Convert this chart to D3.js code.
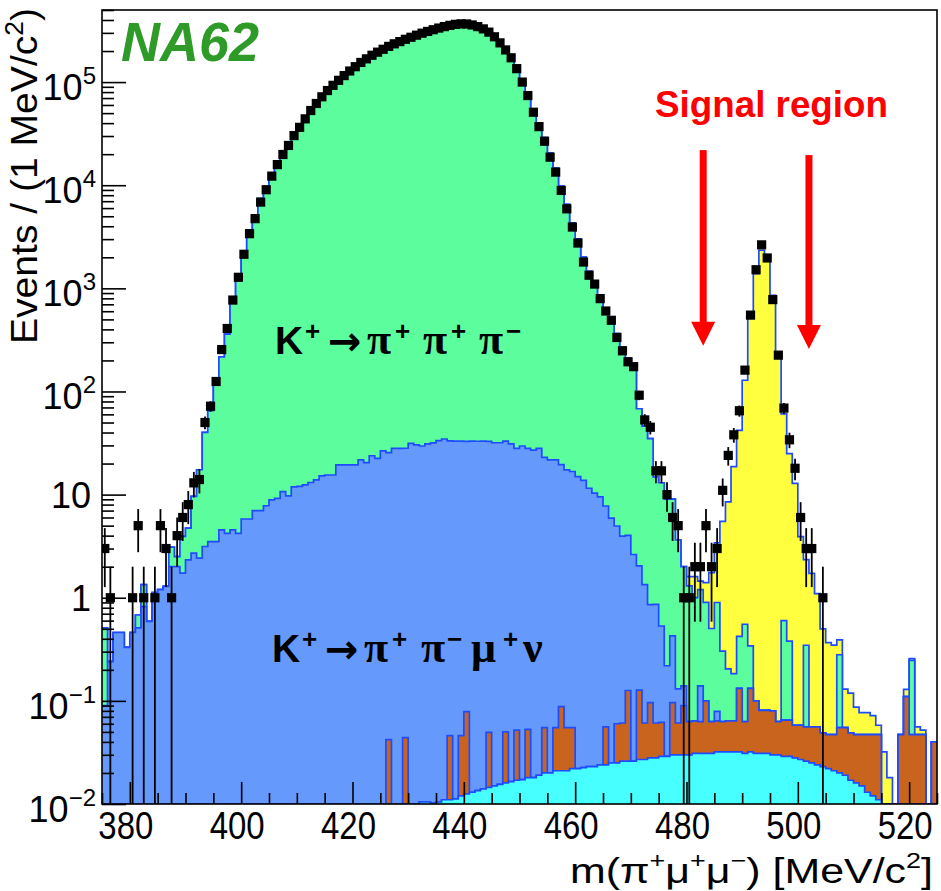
<!DOCTYPE html>
<html><head><meta charset="utf-8">
<script src="https://cdn.jsdelivr.net/npm/d3@7"></script>
<style>body{margin:0;background:#fff}svg{display:block;background:#fff}</style>
</head><body>
<svg id="c" width="941" height="891"></svg>
<script>
// ---- binning: 1 MeV/c^2 bins from 375 to 525 ----
const massLow = 375, massHigh = 525, nBins = 150;

// ---- MC components (events per bin), stacked bottom -> top ----
const cyanBkg = [
 0,0,0,0,0,0,0,0,0,0, 0,0,0,0,0,0,0,0,0,0, 0,0,0,0,0,0,0,0,0,0, 0,0,0,0,0,0,0,0,0,0, 0,0,0,0,0,0,0,0,0,0,
 0,0,0,0,0,0,0,0.0105,0.0105,0.0102,
 0.0105,0.011,0.011,0.0112,0.012,0.0125,0.013,0.0135,0.014,0.0145,
 0.015,0.0155,0.016,0.0165,0.017,0.0172,0.018,0.018,0.019,0.020,
 0.020,0.021,0.021,0.021,0.022,0.022,0.0225,0.023,0.023,0.024,
 0.024,0.025,0.025,0.026,0.026,0.026,0.027,0.027,0.028,0.028,
 0.029,0.029,0.030,0.030,0.030,0.030,0.031,0.031,0.031,0.031,
 0.032,0.032,0.032,0.032,0.032,0.031,0.032,0.031,0.031,0.031,
 0.030,0.030,0.029,0.029,0.028,0.027,0.026,0.025,0.024,0.023,
 0.022,0.021,0.020,0.019,0.017,0.016,0.015,0.013,0.012,0.011,
 0,0,0,0,0,0,0,0,0,0];
const orangeBkg = [
 0,0,0,0,0,0,0,0,0,0, 0,0,0,0,0,0,0,0,0,0, 0,0,0,0,0,0,0,0,0,0, 0,0,0,0,0,0,0,0,0,0, 0,0,0,0,0,0,0,0,0,0,
 0,0.042,0,0,0.044,0,0,0,0,0,
 0,0,0.035,0,0.034,0.066,0,0,0,0.035,
 0,0,0.034,0,0.035,0,0.035,0,0,0.035,
 0,0.034,0.067,0.034,0.033,0,0,0,0,0,
 0.032,0,0.035,0.035,0.10,0,0.10,0.034,0.068,0.033,
 0.033,0,0.066,0.031,0.06,0.033,0.033,0.032,0.069,0.032,
 0.032,0.031,0.032,0.032,0.10,0.032,0.10,0.069,0.05,0.05,
 0.05,0.033,0.036,0.036,0.030,0.031,0.030,0.031,0.032,0.026,
 0.025,0.026,0.035,0.036,0.032,0.031,0.032,0.034,0.035,0.036,
 0,0,0,0.047,0.11,0.047,0.047,0.047,0,0.04];
const pipimunu = [
 0.09,0.24,0.46,0.46,0.33,0.46,0.51,0.82,0.59,1.12,
 1.2,1.29,2.0,2.0,1.73,2.33,2.71,2.42,3.14,3.5,
 3.5,4.55,4.2,4.55,4.2,5.8,5.8,7.0,7.0,7.8,
 8.9,9.2,10.7,9.7,11.9,12.0,12.4,13.1,13.9,15.2,
 15.5,15.5,19.4,19.4,19.4,19.4,21.7,20.4,23.8,22.5,
 26.6,25.5,28.1,28.1,28.1,31.4,30.3,29.6,31.0,31.8,
 33.3,34.6,33.2,33.0,33.0,32.8,33.0,32.9,33.0,32.8,
 31.8,31.8,33.0,31.0,28.0,29.6,28.0,27.0,28.0,22.9,
 21.7,21.7,19.4,17.3,16.7,14.9,13.7,11.5,10.3,9.5,
 7.7,5.9,4.9,3.9,3.9,2.6,1.91,1.28,0.76,0.80,
 0.47,0.19,0.33,0.07,0.05,0,0,0.077,0,0,
 0.015,0,0,0,0,0,0,0,0,0,
 0,0,0,0,0,0,0,0,0,0, 0,0,0,0,0,0,0,0,0,0, 0,0,0,0,0,0,0,0,0,0];
const k3pi = [
 0.42,0,0,0,0,0,0.17,0.52,0,0,
 0,0,1.1,0.5,2.2,2.4,6.9,15,37,61.5,
 121,212,356,715,1246,2300,3650,5100,7400,9700,
 13100,17000,21300,26000,32300,38800,46800,56000,65500,75500,
 86500,96500,107000,118500,131000,144000,157500,170500,184000,197000,
 210000,222000,235000,247000,260000,272000,285000,298000,310000,322000,
 334000,345000,355000,363000,367000,366000,358000,345000,328000,305000,
 276000,243000,210000,178000,141000,106000,79000,55000,40000,29000,
 20500,14600,9800,6500,4300,3000,2000,1450,1150,850,
 640,500,360,265,205,160,66,44.7,34,14,
 12.5,8.8,8.6,3.5,1.86,1.24,0.94,1.06,0.8,0.44,
 0.82,0.24,0.14,0.12,0.29,0.49,0.21,0,0,0,
 0,0,0.535,0.315,0,0,0.29,0,0,0,
 0,0,0.225,0,0,0,0,0,0,0,
 0,0,0,0,0,0.2,0,0,0,0];
const signal = [
 0,0,0,0,0,0,0,0,0,0, 0,0,0,0,0,0,0,0,0,0, 0,0,0,0,0,0,0,0,0,0, 0,0,0,0,0,0,0,0,0,0, 0,0,0,0,0,0,0,0,0,0,
 0,0,0,0,0,0,0,0,0,0, 0,0,0,0,0,0,0,0,0,0, 0,0,0,0,0,0,0,0,0,0, 0,0,0,0,0,0,0,0,0,0, 0,0,0,0,0,0,0,0,0,0,
 0,0,0,0,0,0.3,0.6,0.25,0.5,1.25,
 2.5,5.2,8.3,18.5,41.6,128,528,1390,2340,1860,
 857,217,60,24.6,12.8,3.85,2.0,1.67,1.04,0.45,
 0.32,0.30,0.11,0.075,0.07,0.04,0.03,0.03,0.025,0.011,
 0.032,0.018,0,0,0.019,0.01,0.009,0.005,0,0];

// ---- data (events per bin) ----
const dataCounts = [
 3,1,0,0,0,1,5,1,0,1,
 5,3,1,4,6,8,13,14,50,72,
 125,255,408,770,1280,2140,3390,4740,6860,9040,
 12250,15850,19860,24300,30300,36400,44000,53000,62000,72000,
 82800,93000,104000,115600,128000,141000,155000,168000,182000,195000,
 208000,222000,235000,247000,260000,272000,285000,298000,310000,322000,
 334000,345000,355000,363000,367000,366000,358000,345000,328000,305000,
 275000,240000,205000,172000,135000,100000,74000,51000,37000,26700,
 18700,13400,8900,5900,3930,2750,1800,1340,1100,795,
 603,490,334,248,194,174,92,53,45,17,
 17,10,6,5,1,1,2,2,5,2,
 3,11,24,38,65,161,550,1515,2640,1970,
 778,225,69,34,18,6,3,3,0,1,
 0,0,0,0,0,0,0,0,0,0, 0,0,0,0,0,0,0,0,0,0];

// ---- axis ticks / annotations ----
const xTickMajor = [380,400,420,440,460,480,500,520];
const xTickMinor = d3.range(375, 526, 5).filter(v => v % 20 !== 0);
const yDecades = [-2,-1,0,1,2,3,4,5];
const signalWindow = [483, 502];
const arrowTop = [2.19e4, 1.96e4];
const arrowTip = [277, 258];

const W = {l:102, r:937, t:10, b:804};
const svg = d3.select("#c");
const x = d3.scaleLinear().domain([massLow, massHigh]).range([W.l, W.r]);
const y = d3.scaleLog().domain([0.01, 5e5]).range([W.b, W.t]);
const yc = v => v > 0.01 ? y(v) : W.b;

svg.append("clipPath").attr("id","frameClip").append("rect")
  .attr("x",W.l).attr("y",W.t).attr("width",W.r-W.l).attr("height",W.b-W.t);
const plot = svg.append("g").attr("clip-path","url(#frameClip)");

// ---- stacked histograms ----
const keys = ["cyan","orange","blue","green","yellow"];
const fills = {cyan:"#48ffff", orange:"#c8641e", blue:"#6699fc", green:"#5cfd9d", yellow:"#ffff40"};
const rows = d3.range(nBins).map(i => ({cyan:cyanBkg[i], orange:orangeBkg[i], blue:pipimunu[i], green:k3pi[i], yellow:signal[i]}));
const stacked = d3.stack().keys(keys)(rows);
const stepPts = layer => {
  const p = layer.map((d,i) => [massLow + i, d[1]]);
  p.push([massHigh, layer[nBins-1][1]]);
  return p;
};
const area = d3.area().curve(d3.curveStepAfter).x(d => x(d[0])).y0(W.b).y1(d => yc(d[1]));
const line = d3.line().curve(d3.curveStepAfter).x(d => x(d[0])).y(d => yc(d[1]));
for (let k = keys.length - 1; k >= 0; k--) {
  const p = stepPts(stacked[k]);
  plot.append("path").attr("d", area(p)).attr("fill", fills[keys[k]]);
  plot.append("path").attr("d", line(p)).attr("fill","none")
    .attr("stroke","#1f4bff").attr("stroke-width",1.7);
}

// ---- data points ----
const pts = dataCounts.map((n,i) => ({n, i})).filter(d => d.n > 0);
const dg = plot.append("g").attr("stroke","#000").attr("stroke-width",1.8);
dg.selectAll("line.v").data(pts).join("line").attr("class","v")
  .attr("x1", d => x(massLow + d.i + 0.5)).attr("x2", d => x(massLow + d.i + 0.5))
  .attr("y1", d => yc(d.n - Math.sqrt(d.n))).attr("y2", d => yc(d.n + Math.sqrt(d.n)));
dg.selectAll("line.h").data(pts).join("line").attr("class","h")
  .attr("x1", d => x(massLow + d.i)).attr("x2", d => x(massLow + d.i + 1))
  .attr("y1", d => y(d.n)).attr("y2", d => y(d.n));
plot.append("g").selectAll("rect").data(pts).join("rect")
  .attr("x", d => x(massLow + d.i + 0.5) - 4.6).attr("y", d => y(d.n) - 4.6)
  .attr("width",9.2).attr("height",9.2).attr("fill","#000");

// ---- frame & axes ----
svg.append("rect").attr("x",W.l).attr("y",W.t).attr("width",W.r-W.l).attr("height",W.b-W.t)
  .attr("fill","none").attr("stroke","#000").attr("stroke-width",1.6);
const styleAxis = g => { g.select(".domain").remove(); g.selectAll("line").attr("stroke","#000").attr("stroke-width",1.6); g.selectAll("text").remove(); };
svg.append("g").attr("transform",`translate(0,${W.b})`)
  .call(d3.axisBottom(x).tickValues(xTickMajor).tickSize(-22).tickSizeOuter(0)).call(styleAxis);
svg.append("g").attr("transform",`translate(0,${W.b})`)
  .call(d3.axisBottom(x).tickValues(xTickMinor).tickSize(-11).tickSizeOuter(0)).call(styleAxis);
const yMajor = yDecades.map(e => Math.pow(10, e));
const yMinor = [];
yDecades.forEach(e => d3.range(2,10).forEach(k => { const v = k*Math.pow(10,e); if (v <= 5e5) yMinor.push(v); }));
svg.append("g").attr("transform",`translate(${W.l},0)`)
  .call(d3.axisLeft(y).tickValues(yMajor).tickSize(-24).tickSizeOuter(0)).call(styleAxis);
svg.append("g").attr("transform",`translate(${W.l},0)`)
  .call(d3.axisLeft(y).tickValues(yMinor).tickSize(-12).tickSizeOuter(0)).call(styleAxis);

const sans = "'Liberation Sans', Arial, Helvetica, sans-serif";
const serif = "'Liberation Serif', 'Times New Roman', serif";

// x tick labels
svg.append("g").selectAll("text").data(xTickMajor).join("text")
  .attr("x", d => x(d) - 4).attr("y", 839).attr("text-anchor","middle")
  .attr("font-family", sans).attr("font-size", 38)
  .attr("textLength", 55).attr("lengthAdjust","spacingAndGlyphs").text(d => d);

// y tick labels
const yl = svg.append("g").attr("font-family", sans).attr("fill","#000");
yDecades.forEach(e => {
  const py = y(Math.pow(10, e));
  if (e === 0 || e === 1) {
    yl.append("text").attr("x", 91).attr("y", py + 13).attr("text-anchor","end")
      .attr("font-size", 36).text(e === 0 ? "1" : "10");
  } else {
    const t = yl.append("text").attr("x", 96).attr("y", py + 18).attr("text-anchor","end").attr("font-size", 36);
    t.append("tspan").text("10");
    t.append("tspan").attr("font-size", 24).attr("dy", -16).text(e < 0 ? "\u2212" + (-e) : String(e));
  }
});

// axis titles
const yt = svg.append("text").attr("transform","translate(37,8) rotate(-90)")
  .attr("text-anchor","end").attr("font-family", sans).attr("font-size", 37)
  .attr("textLength", 336).attr("lengthAdjust","spacingAndGlyphs");
yt.append("tspan").text("Events / (1 MeV/c");
yt.append("tspan").attr("font-size", 25).attr("dy", -14).text("2");
yt.append("tspan").attr("dy", 14).text(")");

const xt = svg.append("text").attr("x", 933).attr("y", 883).attr("text-anchor","end")
  .attr("font-family", sans).attr("font-size", 35)
  .attr("textLength", 363).attr("lengthAdjust","spacingAndGlyphs");
[["m(\u03c0",0],["+",1],["\u03bc",0],["+",1],["\u03bc",0],["\u2212",1],[") [MeV/c",0],["2",1],["]",0]]
  .forEach(([s, sup], j, arr) => {
    const prevSup = j > 0 && arr[j-1][1];
    const ts = xt.append("tspan").text(s);
    if (sup) ts.attr("font-size", 22).attr("dy", -15);
    else if (prevSup) ts.attr("dy", 15);
  });

// NA62 logo
svg.append("text").attr("x", 121).attr("y", 61).attr("font-family", sans)
  .attr("font-weight","bold").attr("font-style","italic").attr("font-size", 56)
  .attr("fill","#2e9a28").attr("textLength", 138).attr("lengthAdjust","spacingAndGlyphs").text("NA62");

// Signal region text and arrows
svg.append("text").attr("x", 655).attr("y", 117).attr("font-family", sans)
  .attr("font-weight","bold").attr("font-size", 36).attr("fill","#ff0000")
  .attr("textLength", 233).attr("lengthAdjust","spacingAndGlyphs").text("Signal region");
signalWindow.forEach((m, j) => {
  const xa = x(m), yt0 = y(arrowTop[j]), ytip = y(arrowTip[j]);
  svg.append("rect").attr("x", xa - 3.5).attr("y", yt0).attr("width", 7).attr("height", ytip - 22 - yt0).attr("fill","#ff0000");
  svg.append("path").attr("d", `M${xa-12},${ytip-24}L${xa+12},${ytip-24}L${xa},${ytip}Z`).attr("fill","#ff0000");
});

// decay labels
function decayLabel(parts, baseY) {
  const t = svg.append("text").attr("y", baseY).attr("fill","#000");
  parts.forEach(([s, px, kind]) => {
    const ts = t.append("tspan").attr("x", px).text(s);
    if (kind === "K") ts.attr("font-family", sans).attr("font-weight","bold").attr("font-size", 39).attr("y", baseY);
    else if (kind === "sup") ts.attr("font-family", sans).attr("font-weight","bold").attr("font-size", 26).attr("y", baseY - 14);
    else if (kind === "arr") ts.attr("font-family", "'DejaVu Sans', sans-serif").attr("font-weight","bold").attr("font-size", 40).attr("y", baseY + 1);
    else ts.attr("font-family", serif).attr("font-weight","bold").attr("font-size", 44).attr("y", baseY);
  });
}
decayLabel([["K",275,"K"],["+",305,"sup"],["\u2192",328,"arr"],["\u03c0",367,"g"],["+",395,"sup"],
            ["\u03c0",423,"g"],["+",451,"sup"],["\u03c0",479,"g"],["\u2212",506,"sup"]], 354);
decayLabel([["K",272,"K"],["+",302,"sup"],["\u2192",325,"arr"],["\u03c0",364,"g"],["+",392,"sup"],
            ["\u03c0",421,"g"],["\u2212",447,"sup"],["\u03bc",471,"g"],["+",503,"sup"],["\u03bd",523,"g"]], 662);
</script>
</body></html>
